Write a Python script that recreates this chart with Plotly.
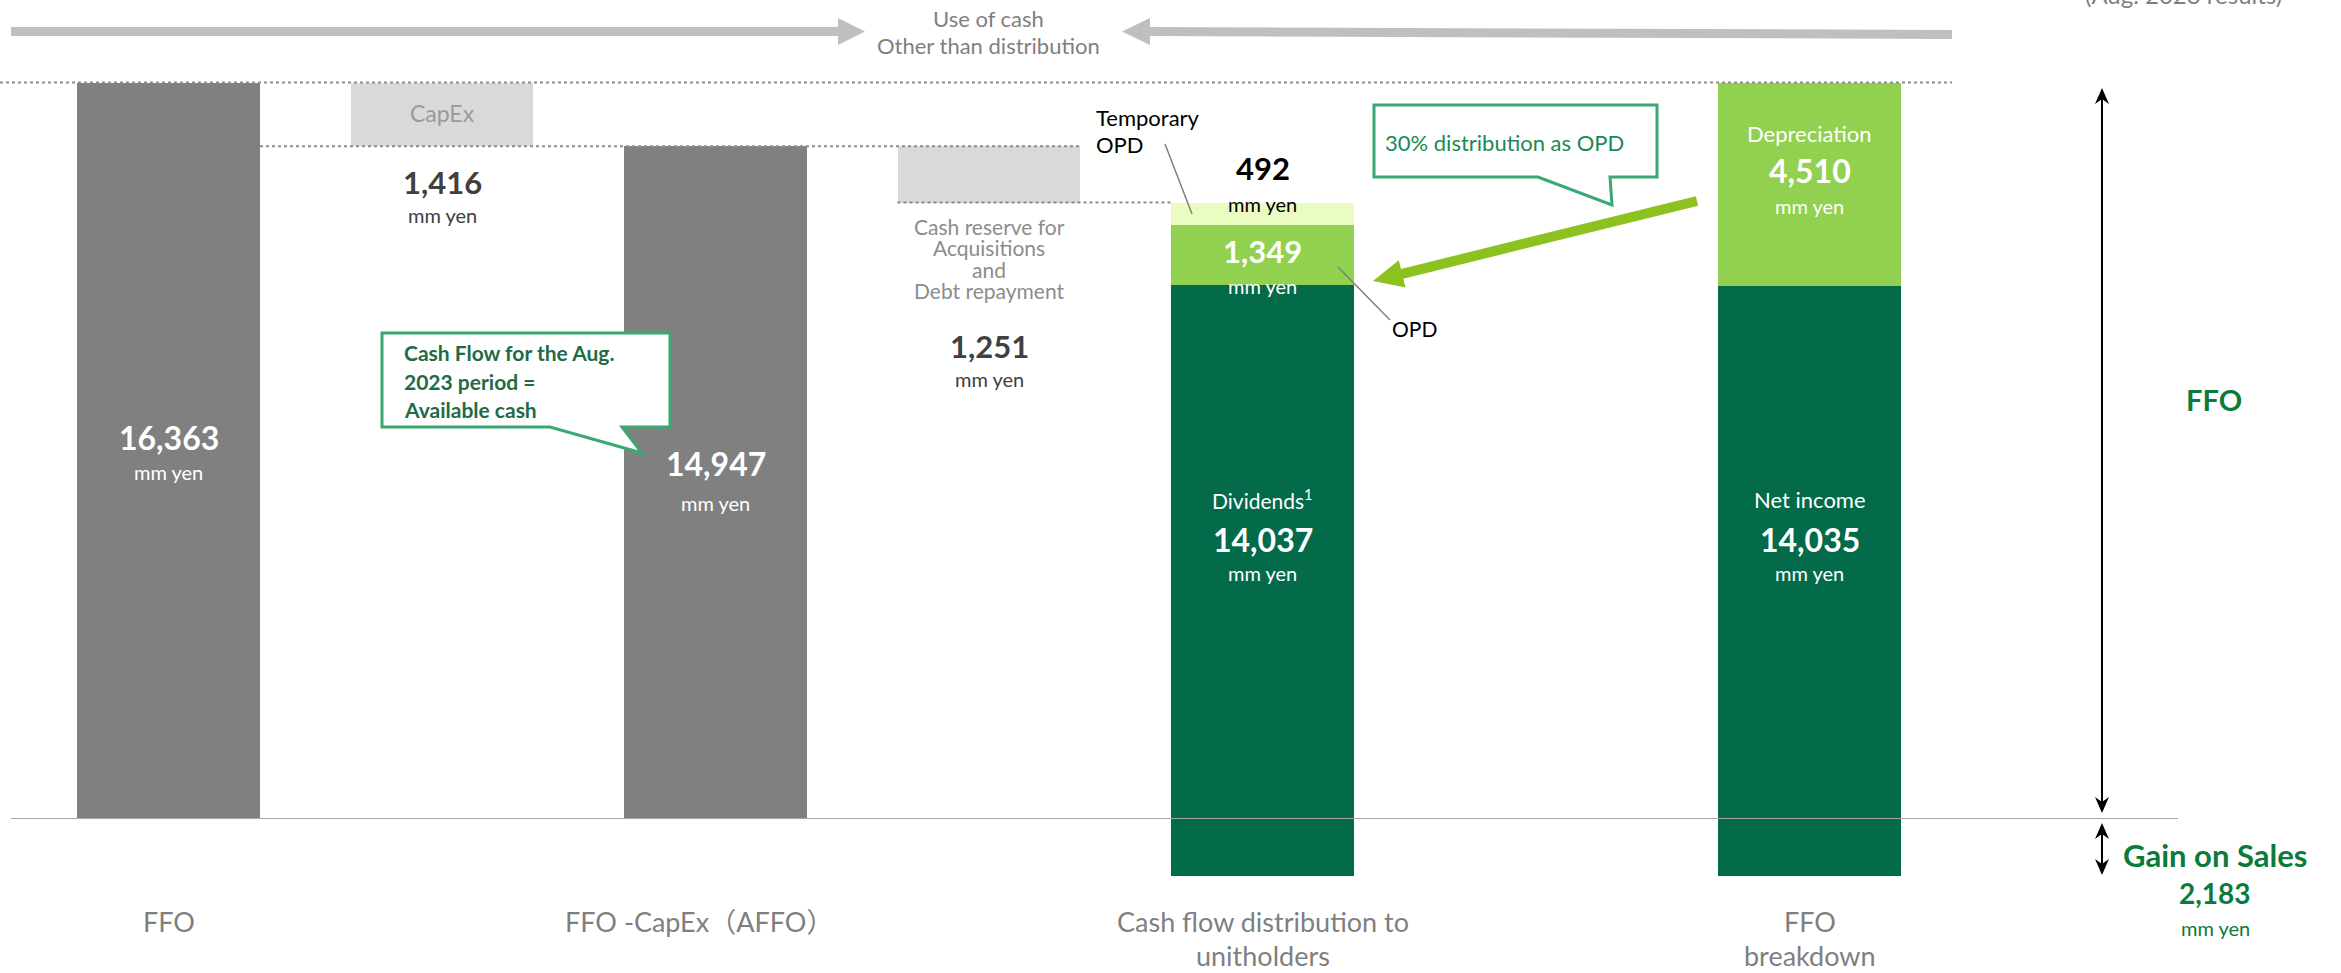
import plotly.graph_objects as go

W, H = 2341, 973
FONT = "Lato, 'Noto Sans', 'Noto Sans CJK JP', sans-serif"

# ---------------- data (mm yen) ----------------
ffo = 16363
capex = 1416
affo = 14947
cash_reserve = 1251
temp_opd = 492
opd = 1349
dividends = 14037
net_income = 14035
depreciation = 4510
gain_on_sales = 2183

category_labels = [["FFO"], ["FFO -CapEx（AFFO）"],
                   ["Cash flow distribution to", "unitholders"],
                   ["FFO", "breakdown"]]

# ---------------- layout geometry ----------------
X0_PX, STEP_PX = 168.5, 273.5          # pixel centre of slot 0, pixel per slot
BW = 0.669                              # bar width in slot units
pos = {"ffo": 0, "capex": 1, "affo": 2, "reserve": 3, "dist": 4, "brk": 6}
cat_pos = [0, 2, 4, 6]

Y0_PX = 819          # pixel of value 0
YTOP_PX = 82.5       # pixel of FFO top
YLOW_PX = 876        # pixel of -gain_on_sales (compressed segment)
k = (Y0_PX - YTOP_PX) / ffo

C_GRAY = "#808080"
C_LGRAY = "#d9d9d9"
C_DKGREEN = "#036a4a"
C_GREEN = "#92d050"
C_PALE = "#eafcc2"

fig = go.Figure()


def add_bar(p, base, height, color):
    for xa, ya in (("x", "y"), ("x2", "y2")):
        fig.add_trace(go.Bar(x=[p], y=[height], base=[base], width=[BW],
                             marker=dict(color=color, line=dict(width=0)),
                             xaxis=xa, yaxis=ya, showlegend=False,
                             hoverinfo="skip"))


# waterfall derived levels
reserve_base = affo - cash_reserve
temp_base = reserve_base - temp_opd
opd_base = temp_base - opd
div_base = opd_base - dividends
ni_top = -gain_on_sales + net_income

add_bar(pos["ffo"], 0, ffo, C_GRAY)
add_bar(pos["capex"], affo, capex, C_LGRAY)
add_bar(pos["affo"], 0, affo, C_GRAY)
add_bar(pos["reserve"], reserve_base, cash_reserve, C_LGRAY)
add_bar(pos["dist"], temp_base, temp_opd, C_PALE)
add_bar(pos["dist"], opd_base, opd, C_GREEN)
add_bar(pos["dist"], div_base, dividends, C_DKGREEN)
add_bar(pos["brk"], -gain_on_sales, net_income, C_DKGREEN)
add_bar(pos["brk"], ni_top, depreciation, C_GREEN)

x_lo = -X0_PX / STEP_PX
x_hi = (W - X0_PX) / STEP_PX


def px(x):
    return x / W


def py(y):
    return 1 - y / H


fig.update_layout(
    width=W, height=H, margin=dict(l=0, r=0, t=0, b=0, pad=0),
    paper_bgcolor="white", plot_bgcolor="rgba(0,0,0,0)",
    barmode="overlay", bargap=0,
    xaxis=dict(domain=[0, 1], range=[x_lo, x_hi], visible=False, anchor="y", fixedrange=True),
    xaxis2=dict(domain=[0, 1], range=[x_lo, x_hi], visible=False, anchor="y2", fixedrange=True),
    yaxis=dict(domain=[py(Y0_PX), 1], range=[0, Y0_PX / k], visible=False, anchor="x", fixedrange=True),
    yaxis2=dict(domain=[py(YLOW_PX), py(Y0_PX)], range=[-gain_on_sales, 0], visible=False,
                anchor="x2", fixedrange=True),
    font=dict(family=FONT),
)


def label(x, y, text, size, color, bold=False, xref="x", xanchor="center"):
    fig.add_annotation(x=x if xref != "paper" else px(x), y=py(y), xref=xref, yref="paper",
                       text=f"<b>{text}</b>" if bold else text, showarrow=False,
                       font=dict(family=FONT, size=size, color=color),
                       xanchor=xanchor, yanchor="middle")


def fmt(v):
    return f"{v:,}"


# ---- labels inside / around bars ----
label(pos["ffo"], 437, fmt(ffo), 32, "white", True)
label(pos["ffo"], 472, "mm yen", 20, "white")

label(pos["capex"], 113, "CapEx", 23, "#9a9a9a")
label(pos["capex"], 182, fmt(capex), 31, "#404040", True)
label(pos["capex"], 215, "mm yen", 20, "#404040")

label(pos["affo"], 463, fmt(affo), 32, "white", True)
label(pos["affo"], 503, "mm yen", 20, "white")

for t, yy in zip(["Cash reserve for", "Acquisitions", "and", "Debt repayment"], [227, 248, 269, 291]):
    label(pos["reserve"], yy, t, 21, "#8c8c8c")
label(pos["reserve"], 346, fmt(cash_reserve), 31, "#404040", True)
label(pos["reserve"], 379, "mm yen", 20, "#404040")

label(pos["dist"], 168, fmt(temp_opd), 31, "black", True)
label(pos["dist"], 204, "mm yen", 20, "black")
label(pos["dist"], 251, fmt(opd), 31, "white", True)
label(pos["dist"], 286, "mm yen", 20, "white")
label(pos["dist"], 499, "Dividends<sup>1</sup>", 21, "white")
label(pos["dist"], 539, fmt(dividends), 32, "white", True)
label(pos["dist"], 573, "mm yen", 20, "white")

label(pos["brk"], 133, "Depreciation", 22, "white")
label(pos["brk"], 170, fmt(depreciation), 32, "white", True)
label(pos["brk"], 206, "mm yen", 20, "white")
label(pos["brk"], 499, "Net income", 22, "white")
label(pos["brk"], 539, fmt(net_income), 32, "white", True)
label(pos["brk"], 573, "mm yen", 20, "white")

# category labels
for cp, lines in zip(cat_pos, category_labels):
    for i, t in enumerate(lines):
        xx = cp - 0.06 if "AFFO" in t else cp
        label(xx, 921 + 34 * i, t, 27, "#7f7f7f")

# top texts
label(988, 18, "Use of cash", 22, "#7f7f7f", xref="paper")
label(988, 46, "Other than distribution", 22, "#7f7f7f", xref="paper")
label(2183, -5, "(Aug. 2023 results)", 24, "#7f7f7f", xref="paper")

label(1094, 117, "Temporary", 22, "black", xref="paper", xanchor="left")
label(1094, 144, "OPD", 22, "black", xref="paper", xanchor="left")
label(1414, 328, "OPD", 21, "black", xref="paper")

label(1383, 142, "30% distribution as OPD", 22, "#1a8a55", xref="paper", xanchor="left")
for t, yy in zip(["Cash Flow for the Aug.", "2023 period =", "Available cash"], [352, 381, 409]):
    label(402, yy, t, 21, "#1e6b45", True, xref="paper", xanchor="left")

C_FFO = "#0b7a3b"
label(2214, 399, "FFO", 29, C_FFO, True, xref="paper")
label(2215, 855, "Gain on Sales", 31, C_FFO, True, xref="paper")
label(2215, 893, fmt(gain_on_sales), 28, C_FFO, True, xref="paper")
label(2215, 928, "mm yen", 20, C_FFO, xref="paper")


# ---------------- shapes ----------------
def path(points):
    s = "M " + " L ".join(f"{px(x):.6f},{py(y):.6f}" for x, y in points) + " Z"
    return s


def poly(points, fill, line_color=None, lw=0):
    fig.add_shape(type="path", path=path(points), xref="paper", yref="paper",
                  fillcolor=fill, line=dict(color=line_color or fill, width=lw), layer="above")


def seg(x0, y0, x1, y1, color, w):
    fig.add_shape(type="line", x0=px(x0), y0=py(y0), x1=px(x1), y1=py(y1), xref="paper", yref="paper",
                  line=dict(color=color, width=w), layer="above")


# dotted reference lines
DOT = dict(color="#8c8c8c", width=2, dash="dot")
fig.add_shape(type="line", xref="paper", yref="y", x0=0, x1=px(1952), y0=ffo, y1=ffo, line=DOT)
fig.add_shape(type="line", xref="x", yref="y", x0=pos["ffo"] + BW / 2, x1=pos["reserve"] + BW / 2,
              y0=affo, y1=affo, line=DOT)
fig.add_shape(type="line", xref="x", yref="y", x0=pos["reserve"] - BW / 2, x1=pos["dist"] - BW / 2,
              y0=reserve_base, y1=reserve_base, line=DOT)

# baseline
fig.add_shape(type="line", xref="paper", yref="y", x0=px(11), x1=px(2178), y0=0, y1=0,
              line=dict(color="#a6a6a6", width=2), layer="above")

# top gray arrows
C_ARR = "#bfbfbf"
poly([(11, 27), (838, 27), (838, 18), (865, 31.5), (838, 45), (838, 36), (11, 36)], C_ARR)
poly([(1122, 31.5), (1150, 18), (1150, 27), (1952, 30), (1952, 39), (1150, 36), (1150, 45)], C_ARR)

# black double arrows
AX = 2102


def head(xt, yt, direction):
    d = direction
    poly([(xt, yt), (xt - 7, yt + 16 * d), (xt, yt + 11 * d), (xt + 7, yt + 16 * d)], "black")


seg(AX, 95, AX, 806, "black", 2)
head(AX, 88, 1)
head(AX, 813, -1)
seg(AX, 830, AX, 868, "black", 2)
head(AX, 823, 1)
head(AX, 875, -1)

# leader lines
seg(1165, 144, 1192, 214, "#808080", 1.5)
seg(1338, 267, 1390, 320, "#808080", 1.5)

# callouts
C_CALL = "#3aa872"
poly([(1374, 105), (1657, 105), (1657, 177), (1610, 177), (1612, 205), (1538, 177), (1374, 177)],
     "white", C_CALL, 3)
poly([(382, 333), (670, 333), (670, 427), (622, 427), (642, 453), (550, 427), (382, 427)],
     "white", C_CALL, 3)

# big green arrow (depreciation -> OPD)
C_BIG = "#8cc21f"
tip = (1373, 281)
start = (1697, 201)
dx, dy = start[0] - tip[0], start[1] - tip[1]
ln = (dx * dx + dy * dy) ** 0.5
ux, uy = dx / ln, dy / ln
nx, ny = -uy, ux
hl, hw, sw = 30, 14, 5
bx, by = tip[0] + ux * hl, tip[1] + uy * hl
poly([tip, (bx + nx * hw, by + ny * hw), (bx + nx * sw, by + ny * sw),
      (start[0] + nx * sw, start[1] + ny * sw), (start[0] - nx * sw, start[1] - ny * sw),
      (bx - nx * sw, by - ny * sw), (bx - nx * hw, by - ny * hw)], C_BIG)

fig.write_html("out.html", config={"displayModeBar": False},
               post_script="document.body.style.margin='0';document.body.style.overflow='hidden';")
